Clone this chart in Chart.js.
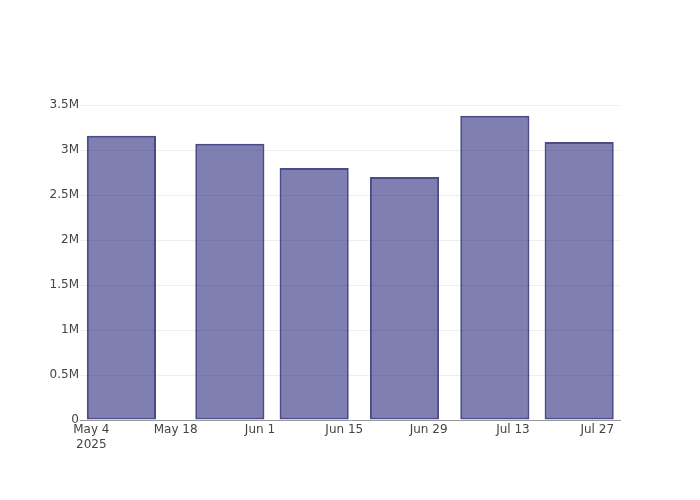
<!DOCTYPE html>
<html>
<head>
<meta charset="utf-8">
<script src="https://cdn.jsdelivr.net/npm/chart.js@4.4.1/dist/chart.umd.min.js"></script>
<style>
  html, body { margin: 0; padding: 0; background: #fff; }
  #wrap { width: 700px; height: 500px; }
</style>
</head>
<body>
<div id="wrap"><canvas id="chart" width="700" height="500"></canvas></div>
<script>
// data
const dates = ["2025-05-09", "2025-05-27", "2025-06-10", "2025-06-25", "2025-07-10", "2025-07-24"];
const values = [3160000, 3070000, 2800000, 2700000, 3380000, 3090000];
const yTicks = [0, 500000, 1000000, 1500000, 2000000, 2500000, 3000000, 3500000];
const xTickDates = ["2025-05-04", "2025-05-18", "2025-06-01", "2025-06-15", "2025-06-29", "2025-07-13", "2025-07-27"];
const monthNames = ["Jan","Feb","Mar","Apr","May","Jun","Jul","Aug","Sep","Oct","Nov","Dec"];

// days since May 4 2025, so a linear axis can stand in for a time axis
const origin = Date.UTC(2025, 4, 4);
function toDay(s) {
  const p = s.split("-").map(Number);
  return (Date.UTC(p[0], p[1] - 1, p[2]) - origin) / 86400000;
}
function dayLabel(d) {
  const dt = new Date(origin + d * 86400000);
  const txt = monthNames[dt.getUTCMonth()] + " " + dt.getUTCDate();
  return d === 0 ? [txt, String(dt.getUTCFullYear())] : txt;
}
function fmtY(v) {
  if (v === 0) return "0";
  return (v / 1e6) + "M";
}

const points = dates.map((d, i) => ({ x: toDay(d), y: values[i] }));

new Chart(document.getElementById("chart"), {
  type: "bar",
  data: {
    datasets: [{
      data: points,
      backgroundColor: "rgba(0,0,100,0.5)",
      borderColor: "rgba(30,30,110,0.8)",
      borderWidth: 2,
      borderSkipped: false,
      barPercentage: 0.82,
      categoryPercentage: 1
    }]
  },
  options: {
    responsive: false,
    animation: false,
    layout: { padding: { left: 0, right: 80, top: 100, bottom: 0 } },
    plugins: { legend: { display: false }, tooltip: { enabled: false } },
    scales: {
      x: {
        type: "linear",
        offset: false,
        min: -1.88,
        max: 87.78,
        afterBuildTicks: s => { s.ticks = xTickDates.map(d => ({ value: toDay(d) })); },
        afterFit: s => { s.height = 80; },
        grid: { color: "rgba(0,0,0,0)", drawTicks: false },
        border: { display: true, color: "#999", width: 1 },
        ticks: {
          color: "#444",
          font: { family: "DejaVu Sans", size: 12 },
          padding: 3,
          maxRotation: 0,
          autoSkip: false,
          callback: v => dayLabel(v)
        }
      },
      y: {
        min: 0,
        max: 3556000,
        afterBuildTicks: s => { s.ticks = yTicks.map(v => ({ value: v })); },
        afterFit: s => { s.width = 80; },
        grid: { color: "#eeeeee", drawTicks: false },
        border: { display: false },
        ticks: {
          color: "#444",
          font: { family: "DejaVu Sans", size: 12 },
          padding: 1,
          callback: v => fmtY(v)
        }
      }
    }
  }
});
</script>
</body>
</html>
